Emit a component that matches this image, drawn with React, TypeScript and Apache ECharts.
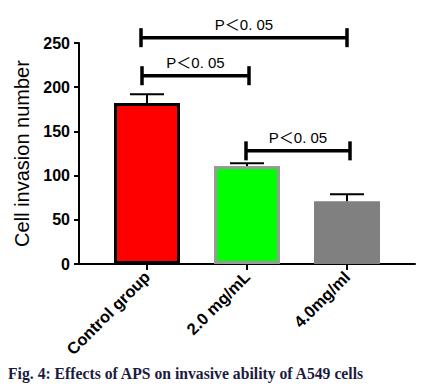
import React, { useEffect, useRef } from "react";
import * as echarts from "echarts";

const categories = ["Control group", "2.0 mg/mL", "4.0mg/ml"];
const means = [182, 111, 71];
const errors = [10, 3, 8];
const barColors = ["#FF0000", "#00FF00", "#808080"];
const barBorders = ["#000000", "#999999", "#808080"];
// [start category, end category, bracket height]
const brackets = [
  [-0.06, 2, 256],
  [-0.05, 1.02, 213],
  [0.99, 2.03, 128],
];
const bracketLabels = ["P＜0. 05", "P＜0. 05", "P＜0. 05"];
const yTitle = "Cell invasion number";
const caption = "Fig. 4: Effects of APS on invasive ability of A549 cells";

export default function App() {
  const ref = useRef<HTMLDivElement>(null);
  useEffect(() => {
    if (!ref.current) return;
    const chart = echarts.init(ref.current, null, { renderer: "svg" });
    const catIdx = categories.map((_, i) => i);
    chart.setOption({
      animation: false,
      title: {
        text: caption,
        left: 3,
        top: 360,
        textStyle: {
          fontFamily: '"Liberation Serif", "Times New Roman", serif',
          fontWeight: "bold",
          fontSize: 15.7,
          color: "#1c1c40",
        },
      },
      grid: { left: 79, right: 26, top: 43, bottom: 123, containLabel: false, outerBoundsMode: "none" },
      xAxis: {
        type: "value",
        min: -0.68,
        max: 2.68,
        splitLine: { show: false },
        axisLine: { onZero: false, lineStyle: { color: "#000", width: 2 } },
        axisTick: { show: true, customValues: catIdx, length: 6, lineStyle: { color: "#000", width: 2 } },
        axisLabel: {
          customValues: catIdx,
          rotate: 45,
          margin: 10,
          formatter: (v: number) => categories[Math.round(v)] ?? "",
          fontFamily: '"Liberation Sans", Arial, sans-serif',
          fontWeight: "bold",
          fontSize: 16.5,
          color: "#000",
        },
      },
      yAxis: {
        type: "value",
        min: 0,
        max: 250,
        interval: 50,
        name: yTitle,
        nameLocation: "middle",
        nameGap: 40,
        nameTextStyle: {
          fontFamily: '"Liberation Sans", Arial, sans-serif',
          fontSize: 20,
          color: "#000",
        },
        splitLine: { show: false },
        axisLine: { show: true, onZero: false, lineStyle: { color: "#000", width: 2 } },
        axisTick: { show: true, length: 5, lineStyle: { color: "#000", width: 2 } },
        axisLabel: {
          margin: 9,
          fontFamily: '"Liberation Sans", Arial, sans-serif',
          fontWeight: "bold",
          fontSize: 16,
          color: "#000",
        },
      },
      series: [
        {
          type: "bar",
          barWidth: 66,
          data: means.map((m, i) => ({
            value: [i, m],
            itemStyle: { color: barColors[i], borderColor: barBorders[i], borderWidth: 3 },
          })),
          z: 2,
        },
        {
          type: "custom",
          clip: false,
          z: 3,
          encode: { x: 0, y: [1, 2] },
          data: means.map((m, i) => [i, m, m + errors[i]]),
          renderItem: (params: any, api: any) => {
            const x = api.value(0);
            const lo = api.coord([x, api.value(1)]);
            const hi = api.coord([x, api.value(2)]);
            const half = 17;
            const style = { stroke: "#000", lineWidth: 2 };
            return {
              type: "group",
              children: [
                { type: "line", shape: { x1: lo[0], y1: lo[1], x2: hi[0], y2: hi[1] }, style },
                { type: "line", shape: { x1: hi[0] - half, y1: hi[1], x2: hi[0] + half, y2: hi[1] }, style },
              ],
            };
          },
        },
        {
          type: "custom",
          clip: false,
          z: 4,
          encode: { x: [0, 1], y: 2 },
          data: brackets,
          renderItem: (params: any, api: any) => {
            const y = api.value(2);
            const p0 = api.coord([api.value(0), y]);
            const p1 = api.coord([api.value(1), y]);
            const h = 9.5;
            const style = { stroke: "#000", lineWidth: 3.5 };
            return {
              type: "group",
              children: [
                { type: "line", shape: { x1: p0[0], y1: p0[1], x2: p1[0], y2: p1[1] }, style },
                { type: "line", shape: { x1: p0[0], y1: p0[1] - h, x2: p0[0], y2: p0[1] + h }, style },
                { type: "line", shape: { x1: p1[0], y1: p1[1] - h, x2: p1[0], y2: p1[1] + h }, style },
                {
                  type: "text",
                  x: (p0[0] + p1[0]) / 2,
                  y: p0[1] - 13,
                  style: {
                    text: bracketLabels[params.dataIndex],
                    fill: "#000",
                    fontSize: 15,
                    fontFamily: '"Liberation Sans", Arial, "Noto Sans CJK SC", sans-serif',
                    align: "center",
                    verticalAlign: "middle",
                  },
                },
              ],
            };
          },
        },
      ],
    });
    return () => chart.dispose();
  }, []);
  return (
    <div
      ref={ref}
      style={{ position: "fixed", left: 0, top: 0, width: 441, height: 387, background: "#fff" }}
    />
  );
}
